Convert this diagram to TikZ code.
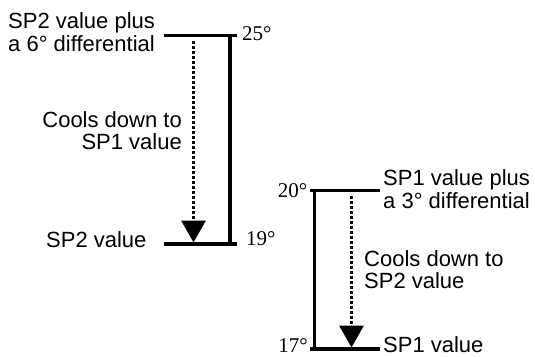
\documentclass[tikz,border=0pt]{standalone}
\usepackage{fontspec}
\setmainfont{Liberation Sans}
\newfontfamily\degfont{Liberation Serif}
\usetikzlibrary{arrows.meta}
\begin{document}
\begin{tikzpicture}[x=1pt,y=-1pt,
  bar/.style={line width=3.2pt},
  cool/.style={line width=3.2pt, dash pattern=on 3pt off 2pt, -{Triangle[width=24pt,length=22pt]}},
  lbl/.style={inner sep=0pt, font=\fontsize{22}{22.5}\selectfont},
  deg/.style={inner sep=0pt, font=\degfont\fontsize{21}{21}\selectfont}]
\useasboundingbox (0,0) rectangle (535,356);
% left bracket
\coordinate (a1) at (164,35.3);
\coordinate (a2) at (237,35.3);
\coordinate (a3) at (230,35.3);
\coordinate (a4) at (230,244);
\coordinate (a5) at (164,244);
\coordinate (a6) at (237,244);
\draw[bar] (a1) -- (a2);
\draw[bar] (a3) -- (a4);
\draw[bar] (a5) -- (a6);
\coordinate (d1) at (193.5,41);
\coordinate (d2) at (193.5,242.5);
\draw[cool] (d1) -- (d2);
% right bracket
\coordinate (b1) at (310,190.7);
\coordinate (b2) at (380,190.7);
\coordinate (b3) at (314.5,190.7);
\coordinate (b4) at (314.5,349);
\coordinate (b5) at (310,349);
\coordinate (b6) at (380,349);
\draw[bar] (b1) -- (b2);
\draw[bar] (b3) -- (b4);
\draw[bar] (b5) -- (b6);
\coordinate (e1) at (351.5,196);
\coordinate (e2) at (351.5,347.5);
\draw[cool] (e1) -- (e2);
% degree labels
\node[deg, anchor=base west] (g25) at (242,40) {25°};
\node[deg, anchor=base west] (g19) at (246,245) {19°};
\node[deg, anchor=base east] (g20) at (307.5,197.5) {20°};
\node[deg, anchor=base east] (g17) at (308,352) {17°};
% texts
\node[lbl, anchor=base west] (t1) at (8,28.7) {\begin{tabular}[t]{@{}l@{}}SP2 value plus\\a 6° differential\end{tabular}};
\node[lbl, anchor=base east] (t2) at (182,127) {\begin{tabular}[t]{@{}r@{}}Cools down to\\SP1 value\end{tabular}};
\node[lbl, anchor=base west] (t3) at (46,247) {SP2 value};
\node[lbl, anchor=base west] (t4) at (383,185.5) {\begin{tabular}[t]{@{}l@{}}SP1 value plus\\a 3° differential\end{tabular}};
\node[lbl, anchor=base west] (t5) at (364,266) {\begin{tabular}[t]{@{}l@{}}Cools down to\\SP2 value\end{tabular}};
\node[lbl, anchor=base west] (t6) at (383,352) {SP1 value};
\end{tikzpicture}
\end{document}
